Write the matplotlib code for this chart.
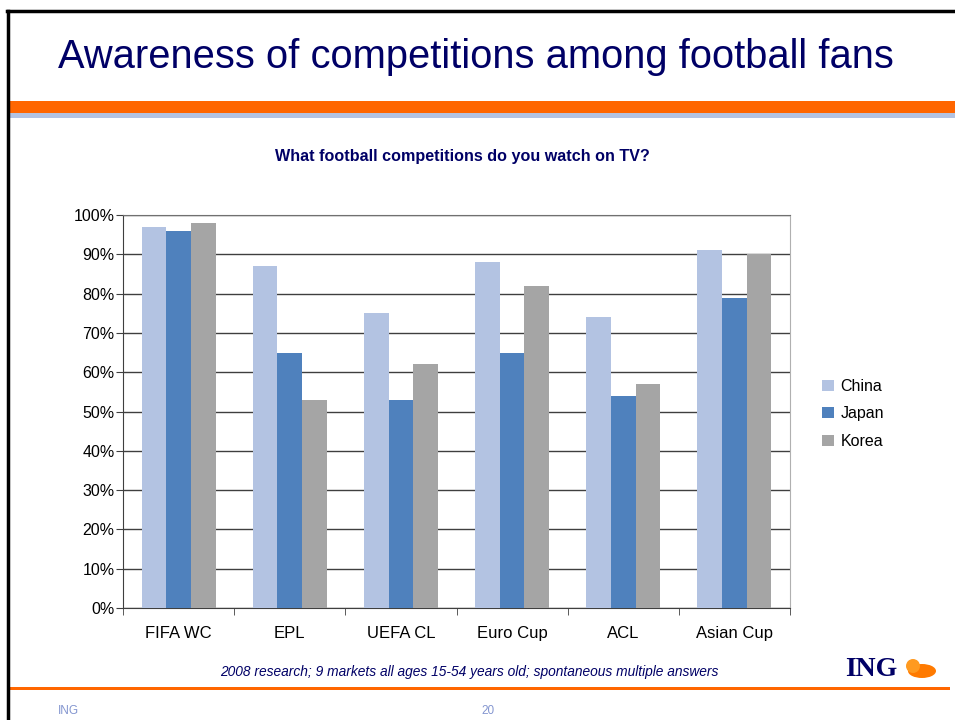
import numpy as np
import matplotlib
matplotlib.use("Agg")
import matplotlib.pyplot as plt
from matplotlib.patches import Rectangle, Ellipse
from matplotlib.lines import Line2D

plt.rcParams['font.family'] = ['Liberation Sans', 'DejaVu Sans']

# data
categories = ['FIFA WC', 'EPL', 'UEFA CL', 'Euro Cup', 'ACL', 'Asian Cup']
series_names = ['China', 'Japan', 'Korea']
china = [97, 87, 75, 88, 74, 91]
japan = [96, 65, 53, 65, 54, 79]
korea = [98, 53, 62, 82, 57, 90]
yticks = [0, 10, 20, 30, 40, 50, 60, 70, 80, 90, 100]

colors = ['#B3C3E2', '#4F81BD', '#A5A5A5']
navy = '#000066'

W, H = 955, 720
fig = plt.figure(figsize=(W / 100, H / 100), dpi=100)

def fx(px):
    return px / W

def fy(py):
    return 1 - py / H

# slide decoration
fig.add_artist(Line2D([fx(8), fx(8)], [fy(11), 0], color='black', lw=2.5))
fig.add_artist(Line2D([fx(7), 1], [fy(11), fy(11)], color='black', lw=2.5))
fig.add_artist(Rectangle((fx(9), fy(113)), 1 - fx(9), fy(101) - fy(113), color='#FF6600', lw=0))
fig.add_artist(Rectangle((fx(9), fy(118)), 1 - fx(9), fy(113) - fy(118), color='#B3C3E2', lw=0))
fig.add_artist(Rectangle((fx(9), fy(690)), fx(950) - fx(9), fy(687) - fy(690), color='#FF6600', lw=0))

fig.text(fx(58), fy(57), 'Awareness of competitions among football fans',
         fontsize=28.7, color=navy, ha='left', va='center')
fig.text(fx(462), fy(157), 'What football competitions do you watch on TV?',
         fontsize=11.6, color=navy, fontweight='bold', ha='center', va='center')
fig.text(fx(469), fy(672), '2008 research; 9 markets all ages 15-54 years old; spontaneous multiple answers',
         fontsize=9.9, color=navy, style='italic', ha='center', va='center')
fig.text(fx(871), fy(670), 'ING', fontsize=20, color=navy, fontweight='bold',
         family=['Liberation Serif', 'DejaVu Serif'], ha='center', va='center')
# rough orange lion mark
fig.add_artist(Ellipse((fx(922), fy(671)), fx(28), fy(0) - fy(14), color='#FF7A00', lw=0))
fig.add_artist(Ellipse((fx(913), fy(666)), fx(14), fy(0) - fy(14), color='#FF9A20', lw=0))
fig.text(fx(68), fy(711), 'ING', fontsize=8.5, color='#8496D0', ha='center', va='center')
fig.text(fx(488), fy(711), '20', fontsize=8.5, color='#8496D0', ha='center', va='center')

# chart
ax = fig.add_axes([fx(123), fy(608), fx(790) - fx(123), fy(215) - fy(608)])
x = np.arange(len(categories))
bw = 0.222
for i, (vals, name) in enumerate(zip([china, japan, korea], series_names)):
    ax.bar(x + (i - 1) * bw, vals, width=bw, color=colors[i], label=name, zorder=3)

ax.set_xlim(-0.5, len(categories) - 0.5)
ax.set_ylim(0, 100)
ax.set_yticks(yticks)
ax.set_yticklabels(['%d%%' % v for v in yticks], fontsize=11.5)
ax.yaxis.grid(True, color='#3F3F3F', lw=1, zorder=0)
ax.set_xticks(x)
ax.set_xticklabels(categories, fontsize=12)
ax.set_xticks(np.arange(len(categories) + 1) - 0.5, minor=True)
ax.tick_params(axis='x', which='major', length=0, pad=13)
ax.tick_params(axis='x', which='minor', length=5, direction='out', color='#3F3F3F')
ax.tick_params(axis='y', length=5, direction='out', color='#3F3F3F', pad=1)
for s in ['left', 'bottom']:
    ax.spines[s].set_color('#3F3F3F')
ax.spines['top'].set_color('#707070')
ax.spines['right'].set_color('#B0B0B0')

ax.legend(loc='center left', bbox_to_anchor=(fx(808), fy(414)), bbox_transform=fig.transFigure,
          frameon=False, fontsize=11.5, handlelength=0.7, handleheight=0.7,
          handletextpad=0.45, labelspacing=0.8)

fig.savefig('out.png', dpi=100)
